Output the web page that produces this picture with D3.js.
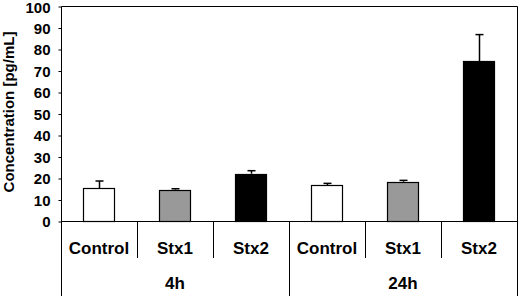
<!DOCTYPE html>
<html lang="en">
<head>
  <meta charset="utf-8">
  <title>Concentration bar chart</title>
  <script src="https://cdn.jsdelivr.net/npm/d3@7"></script>
  <style>
    body { margin: 0; background: #fff; }
    text { font-family: "Liberation Sans", Arial, sans-serif; font-weight: bold; fill: #000; }
  </style>
</head>
<body>
  <div id="chart-area"></div>
  <script>
    // data
    var groups = ["4h", "24h"];
    var treatments = ["Control", "Stx1", "Stx2"];
    var means4h = [15.3, 14.6, 22.0];
    var errs4h = [3.3, 0.4, 1.4];
    var means24h = [16.6, 18.3, 74.4];
    var errs24h = [0.9, 0.6, 12.3];
    var yTicks = [0, 10, 20, 30, 40, 50, 60, 70, 80, 90, 100];
    var fills = { "Control": "#ffffff", "Stx1": "#999999", "Stx2": "#000000" };

    var svgWidth = 520, svgHeight = 296;
    var plotLeft = 61, plotRight = 517, plotTop = 6, zeroY = 221;

    var data = [];
    groups.forEach(function(g, gi) {
      var means = gi === 0 ? means4h : means24h;
      var errs = gi === 0 ? errs4h : errs24h;
      treatments.forEach(function(t, ti) {
        data.push({ key: g + "|" + t, group: g, treatment: t, mean: means[ti], err: errs[ti] });
      });
    });

    var svg = d3.select("#chart-area")
                .append("svg")
                .attr("width", svgWidth)
                .attr("height", svgHeight);

    var x = d3.scaleBand()
              .domain(data.map(function(d) { return d.key; }))
              .range([plotLeft, plotRight])
              .padding(0);

    var xGroup = d3.scaleBand()
                   .domain(groups)
                   .range([plotLeft, plotRight]);

    var y = d3.scaleLinear()
              .domain([0, 100])
              .range([zeroY, plotTop]);

    var barW = x.bandwidth() * 0.41;

    // y axis
    var yAxis = d3.axisLeft(y)
                  .tickValues(yTicks)
                  .tickSize(3)
                  .tickSizeOuter(0)
                  .tickPadding(8);
    var gy = svg.append("g")
                .attr("transform", "translate(" + (plotLeft + 0.5) + ",0.5)")
                .call(yAxis);
    gy.select(".domain").remove();
    gy.selectAll("line").attr("stroke", "#000");
    gy.selectAll("text")
      .attr("font-size", 15)
      .attr("font-family", "'Liberation Sans', Arial, sans-serif")
      .attr("font-weight", "bold")
      .attr("dy", function(d) { return d === 100 ? "0.42em" : "0.36em"; });

    svg.append("text")
       .attr("transform", "translate(14," + 112 + ") rotate(-90)")
       .attr("text-anchor", "middle")
       .attr("font-size", 15)
       .text("Concentration [pg/mL]");

    // frame
    var frame = svg.append("g").attr("stroke", "#000").attr("stroke-width", 1);
    frame.append("line")
         .attr("x1", plotLeft + 0.5).attr("x2", plotRight + 0.5)
         .attr("y1", y(100) + 0.5).attr("y2", y(100) + 0.5);
    frame.append("line")
         .attr("x1", plotLeft + 0.5).attr("x2", plotLeft + 0.5)
         .attr("y1", y(100) + 0.5).attr("y2", svgHeight);
    frame.append("line")
         .attr("x1", plotRight + 0.5).attr("x2", plotRight + 0.5)
         .attr("y1", y(100) + 0.5).attr("y2", svgHeight);
    frame.append("line")
         .attr("x1", plotLeft + 0.5).attr("x2", plotRight + 0.5)
         .attr("y1", y(0) + 0.5).attr("y2", y(0) + 0.5);

    // separators under the axis
    data.forEach(function(d, i) {
      if (i === 0) return;
      var xs = Math.round(x(d.key)) + 0.5;
      var isGroupEdge = d.treatment === treatments[0];
      frame.append("line")
           .attr("x1", xs).attr("x2", xs)
           .attr("y1", y(0) + 0.5)
           .attr("y2", isGroupEdge ? svgHeight : 258);
    });

    // bars
    svg.selectAll("rect.bar")
       .data(data)
       .enter()
       .append("rect")
       .attr("class", "bar")
       .attr("x", function(d) { return Math.round(x(d.key) + x.bandwidth() / 2 - barW / 2) + 0.5; })
       .attr("y", function(d) { return Math.round(y(d.mean)) + 0.5; })
       .attr("width", Math.round(barW))
       .attr("height", function(d) { return Math.round(y(0)) - Math.round(y(d.mean)); })
       .attr("fill", function(d) { return fills[d.treatment]; })
       .attr("stroke", "#000")
       .attr("stroke-width", 1.2);

    // error bars (upper only)
    var eb = svg.append("g").attr("stroke", "#000").attr("stroke-width", 1.5);
    data.forEach(function(d) {
      var cx = Math.round(x(d.key) + x.bandwidth() / 2) + 0.5;
      eb.append("line")
        .attr("x1", cx).attr("x2", cx)
        .attr("y1", y(d.mean)).attr("y2", y(d.mean + d.err));
      eb.append("line")
        .attr("x1", cx - 4).attr("x2", cx + 4)
        .attr("y1", y(d.mean + d.err)).attr("y2", y(d.mean + d.err));
    });

    // category labels
    svg.selectAll("text.cat")
       .data(data)
       .enter()
       .append("text")
       .attr("class", "cat")
       .attr("x", function(d) { return x(d.key) + x.bandwidth() / 2; })
       .attr("y", 254)
       .attr("text-anchor", "middle")
       .attr("font-size", 17)
       .text(function(d) { return d.treatment; });

    svg.selectAll("text.grp")
       .data(groups)
       .enter()
       .append("text")
       .attr("class", "grp")
       .attr("x", function(d) { return xGroup(d) + xGroup.bandwidth() / 2; })
       .attr("y", 289)
       .attr("text-anchor", "middle")
       .attr("font-size", 17)
       .text(function(d) { return d; });
  </script>
</body>
</html>
